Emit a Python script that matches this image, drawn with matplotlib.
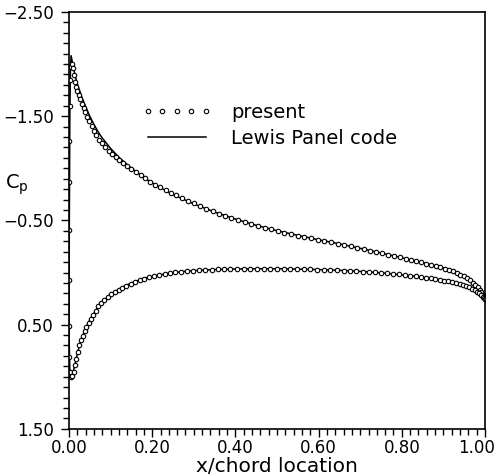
import matplotlib
matplotlib.use("Agg")
import matplotlib.pyplot as plt
from matplotlib.ticker import MultipleLocator, FuncFormatter
from matplotlib.lines import Line2D

# "present" method, upper surface (x/c, Cp)
upper_x = [0.0000, 0.0002, 0.0005, 0.0010, 0.0018, 0.0030, 0.0045, 0.0065, 0.0085, 0.0110,
           0.0140, 0.0170, 0.0200, 0.0235, 0.0270, 0.0310, 0.0350, 0.0395, 0.0440, 0.0490,
           0.0545, 0.0600, 0.0660, 0.0725, 0.0795, 0.0870, 0.0950, 0.1030, 0.1120, 0.1210,
           0.1300, 0.1400, 0.1500, 0.1610, 0.1720, 0.1830, 0.1950, 0.2070, 0.2190, 0.2320,
           0.2450, 0.2580, 0.2720, 0.2860, 0.3000, 0.3150, 0.3300, 0.3450, 0.3600, 0.3750,
           0.3900, 0.4060, 0.4220, 0.4380, 0.4540, 0.4700, 0.4860, 0.5020, 0.5180, 0.5340,
           0.5500, 0.5660, 0.5820, 0.5980, 0.6140, 0.6300, 0.6460, 0.6620, 0.6780, 0.6930,
           0.7080, 0.7230, 0.7380, 0.7530, 0.7670, 0.7810, 0.7950, 0.8090, 0.8220, 0.8350,
           0.8470, 0.8590, 0.8710, 0.8820, 0.8930, 0.9030, 0.9130, 0.9230, 0.9320, 0.9410,
           0.9490, 0.9570, 0.9640, 0.9710, 0.9770, 0.9820, 0.9870, 0.9910, 0.9950, 0.9980,
           1.0000]
upper_cp = [0.07, -0.41, -0.87, -1.26, -1.60, -1.85, -1.97, -2.00, -1.96, -1.89,
            -1.83, -1.78, -1.74, -1.70, -1.66, -1.62, -1.58, -1.535, -1.495, -1.45,
            -1.405, -1.36, -1.315, -1.27, -1.24, -1.205, -1.17, -1.14, -1.11, -1.08,
            -1.055, -1.025, -0.995, -0.963, -0.932, -0.902, -0.872, -0.844, -0.817, -0.79,
            -0.765, -0.74, -0.714, -0.69, -0.665, -0.64, -0.613, -0.588, -0.565, -0.543,
            -0.522, -0.502, -0.483, -0.464, -0.446, -0.43, -0.414, -0.398, -0.383, -0.369,
            -0.355, -0.342, -0.329, -0.316, -0.303, -0.29, -0.277, -0.264, -0.25, -0.237,
            -0.224, -0.211, -0.198, -0.185, -0.172, -0.159, -0.146, -0.133, -0.121, -0.109,
            -0.097, -0.086, -0.074, -0.062, -0.05, -0.038, -0.024, -0.01, 0.005, 0.022,
            0.038, 0.056, 0.075, 0.097, 0.118, 0.14, 0.165, 0.19, 0.215, 0.238,
            0.255]

# "present" method, lower surface
lower_x = [0.0003, 0.0012, 0.0030, 0.0055, 0.0080, 0.0110, 0.0140, 0.0175, 0.0210, 0.0250,
           0.0290, 0.0330, 0.0375, 0.0420, 0.0470, 0.0525, 0.0580, 0.0640, 0.0705, 0.0775,
           0.0850, 0.0930, 0.1010, 0.1100, 0.1190, 0.1280, 0.1380, 0.1480, 0.1590, 0.1700,
           0.1810, 0.1930, 0.2050, 0.2170, 0.2300, 0.2430, 0.2560, 0.2700, 0.2840, 0.2980,
           0.3130, 0.3280, 0.3430, 0.3580, 0.3730, 0.3880, 0.4040, 0.4200, 0.4360, 0.4520,
           0.4680, 0.4840, 0.5000, 0.5160, 0.5320, 0.5480, 0.5640, 0.5800, 0.5960, 0.6120,
           0.6280, 0.6440, 0.6600, 0.6760, 0.6910, 0.7060, 0.7210, 0.7360, 0.7510, 0.7650,
           0.7790, 0.7930, 0.8070, 0.8200, 0.8330, 0.8450, 0.8570, 0.8690, 0.8800, 0.8910,
           0.9010, 0.9110, 0.9210, 0.9300, 0.9390, 0.9470, 0.9550, 0.9620, 0.9690, 0.9750,
           0.9810, 0.9860, 0.9900, 0.9940, 0.9970, 1.0000]
lower_cp = [0.51, 0.81, 0.95, 1.00, 0.99, 0.95, 0.89, 0.83, 0.765, 0.70,
            0.65, 0.61, 0.565, 0.525, 0.485, 0.445, 0.405, 0.365, 0.325, 0.29,
            0.26, 0.235, 0.21, 0.188, 0.167, 0.148, 0.128, 0.11, 0.092, 0.075,
            0.06, 0.046, 0.034, 0.023, 0.013, 0.005, -0.002, -0.008, -0.013, -0.018,
            -0.021, -0.024, -0.027, -0.029, -0.031, -0.032, -0.033, -0.034, -0.035, -0.035,
            -0.035, -0.035, -0.034, -0.034, -0.033, -0.032, -0.031, -0.029, -0.027, -0.025,
            -0.023, -0.02, -0.018, -0.015, -0.012, -0.009, -0.005, -0.001, 0.003, 0.008,
            0.013, 0.018, 0.024, 0.03, 0.036, 0.042, 0.049, 0.056, 0.063, 0.07,
            0.077, 0.085, 0.093, 0.101, 0.11, 0.12, 0.131, 0.142, 0.155, 0.168,
            0.183, 0.199, 0.215, 0.232, 0.245, 0.255]

# Lewis panel code
lewis_up_x = [0.0, 0.0008, 0.002, 0.0035, 0.005, 0.008, 0.012, 0.016, 0.020, 0.025,
              0.030, 0.040, 0.050, 0.060, 0.070, 0.080, 0.100, 0.120, 0.140, 0.160,
              0.180, 0.200, 0.250, 0.300, 0.350, 0.400, 0.450, 0.500, 0.550, 0.600,
              0.650, 0.700, 0.750, 0.800, 0.850, 0.900, 0.930, 0.950, 0.970, 0.985, 1.000]
lewis_up_cp = [0.6, -0.5, -1.5, -1.95, -2.08, -2.02, -1.94, -1.87, -1.81, -1.75,
               -1.69, -1.59, -1.50, -1.42, -1.35, -1.29, -1.19, -1.105, -1.035, -0.97,
               -0.91, -0.858, -0.748, -0.658, -0.58, -0.513, -0.453, -0.401, -0.356, -0.314,
               -0.275, -0.232, -0.187, -0.142, -0.095, -0.045, -0.002, 0.035, 0.09, 0.15, 0.25]
lewis_lo_x = [0.0, 0.002, 0.005, 0.008, 0.012, 0.016, 0.020, 0.025, 0.030, 0.040,
              0.050, 0.060, 0.070, 0.080, 0.100, 0.120, 0.140, 0.160, 0.180, 0.200,
              0.250, 0.300, 0.350, 0.400, 0.450, 0.500, 0.550, 0.600, 0.650, 0.700,
              0.750, 0.800, 0.850, 0.900, 0.930, 0.950, 0.970, 0.985, 1.000]
lewis_lo_cp = [0.6, 0.93, 1.0, 0.985, 0.92, 0.85, 0.78, 0.70, 0.64, 0.535,
               0.455, 0.39, 0.33, 0.283, 0.21, 0.158, 0.118, 0.085, 0.058, 0.037,
               0.0, -0.019, -0.028, -0.034, -0.036, -0.036, -0.033, -0.028, -0.021, -0.011,
               0.003, 0.022, 0.045, 0.076, 0.10, 0.125, 0.16, 0.2, 0.255]

plt.rcParams['font.family'] = ['DejaVu Sans']
plt.rcParams['mathtext.default'] = 'regular'

fig = plt.figure(figsize=(5.0, 4.76), dpi=100)
ax = fig.add_axes([0.138, 0.099, 0.832, 0.876])

ax.plot(lewis_up_x, lewis_up_cp, color='black', lw=1.1)
ax.plot(lewis_lo_x, lewis_lo_cp, color='black', lw=1.1)
mk = dict(ls='none', marker='o', ms=3.2, mfc='white', mec='black', mew=0.8)
ax.plot(upper_x, upper_cp, **mk)
ax.plot(lower_x, lower_cp, **mk)

def fmt_y(v, p):
    return ('%.2f' % v).replace('-', '\u2212')

def fmt_x(v, p):
    # the 1.00 label is drawn separately so it stays inside the figure
    if v > 0.99:
        return ''
    return '%.2f' % v

ax.set_xlim(0, 1.0)
ax.set_ylim(1.5, -2.5)
ax.xaxis.set_major_locator(MultipleLocator(0.2))
ax.xaxis.set_minor_locator(MultipleLocator(0.02))
ax.yaxis.set_minor_locator(MultipleLocator(0.1))
ax.set_yticks([-2.5, -1.5, -0.5, 0.5, 1.5])
ax.xaxis.set_major_formatter(FuncFormatter(fmt_x))
ax.yaxis.set_major_formatter(FuncFormatter(fmt_y))
ax.tick_params(which='both', direction='out', width=1.0, labelsize=12)
ax.tick_params(which='major', length=6)
ax.tick_params(which='minor', length=4)
ax.tick_params(axis='x', which='major', pad=1)
ax.tick_params(axis='y', which='major', pad=5)
for s in ax.spines.values():
    s.set_linewidth(1.2)

ax.annotate('1.00', xy=(1.0, 0.0), xycoords='axes fraction',
            xytext=(-6.0, -7.0), textcoords='offset points',
            ha='center', va='top', fontsize=12)

ax.set_xlabel('x/chord location', fontsize=14.5, labelpad=0)
ax.text(-0.125, 0.585, 'C$_p$', transform=ax.transAxes, fontsize=14,
        ha='center', va='center')

handles = [Line2D([], [], **mk), Line2D([], [], color='black', lw=1.1)]
ax.legend(handles, ['present', 'Lewis Panel code'], numpoints=5,
          loc='upper left', bbox_to_anchor=(0.175, 0.782), frameon=False,
          fontsize=14, handlelength=3.6, handletextpad=1.0, labelspacing=0.35,
          borderpad=0, borderaxespad=0)

fig.savefig('out.png', dpi=100)
